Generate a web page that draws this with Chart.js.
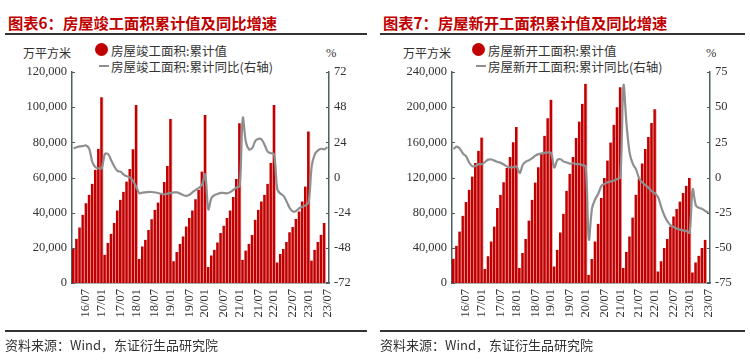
<!DOCTYPE html>
<html>
<head>
<meta charset="utf-8">
<script src="https://cdn.jsdelivr.net/npm/chart.js@4.4.1/dist/chart.umd.min.js"></script>
<style>
  body { margin: 0; background: #fff; width: 750px; height: 361px; overflow: hidden; }
  .panel { position: absolute; top: 0; width: 375px; height: 361px; }
  .panel canvas { position: absolute; left: 0; top: 0; }
  .title { position: absolute; top: 11px; left: 8px; font: bold 15.3px "Noto Sans CJK SC"; color: #c00000; white-space: nowrap; }
  .rule { position: absolute; height: 2px; background: #333; }
  .txt { position: absolute; font: 12.5px "Noto Sans CJK SC"; color: #333; white-space: nowrap; }
  .dot { position: absolute; width: 13px; height: 13px; border-radius: 50%; background: #c00000; }
  .dash { position: absolute; width: 10px; height: 2px; background: #8f8f8f; }
</style>
</head>
<body>
<div class="panel" style="left:0">
  <div class="title">图表6：房屋竣工面积累计值及同比增速</div>
  <div class="rule" style="left:5px;top:33px;width:362px"></div>
  <div class="txt" style="left:23px;top:44px;font-size:12px">万平方米</div>
  <div class="dot" style="left:95px;top:43px"></div>
  <div class="txt" style="left:111px;top:41px">房屋竣工面积:累计值</div>
  <div class="dash" style="left:99px;top:65px"></div>
  <div class="txt" style="left:111px;top:57px">房屋竣工面积:累计同比(右轴)</div>
  <div class="txt" style="left:326px;top:46px;font-family:'Liberation Serif'">%</div>
  <canvas id="chart1" width="375" height="361"></canvas>
  <div class="rule" style="left:5px;top:330px;width:362px"></div>
  <div class="txt" style="left:5px;top:335px;font-size:13px">资料来源：Wind，东证衍生品研究院</div>
</div>
<div class="panel" style="left:375px">
  <div class="title">图表7：房屋新开工面积累计值及同比增速</div>
  <div class="rule" style="left:5px;top:33px;width:365px"></div>
  <div class="txt" style="left:28px;top:44px;font-size:12px">万平方米</div>
  <div class="dot" style="left:97px;top:43px"></div>
  <div class="txt" style="left:113px;top:41px">房屋新开工面积:累计值</div>
  <div class="dash" style="left:101px;top:65px"></div>
  <div class="txt" style="left:113px;top:57px">房屋新开工面积:累计同比(右轴)</div>
  <div class="txt" style="left:331px;top:46px;font-family:'Liberation Serif'">%</div>
  <canvas id="chart2" width="375" height="361"></canvas>
  <div class="rule" style="left:5px;top:330px;width:365px"></div>
  <div class="txt" style="left:5px;top:335px;font-size:13px">资料来源：Wind，东证衍生品研究院</div>
</div>
<script>
// months 16/03 .. 23/07, no January (Jan-Feb is reported together)
const months = [];
for (let y = 16, m = 3; y < 23 || (y === 23 && m <= 7); m++) {
    if (m > 12) { m = 2; y++; }
    months.push(y + '/' + String(m).padStart(2, '0'));
}

// 房屋竣工面积:累计值 (万平方米)
const completedCum = [
    19900, 25200, 31600, 38800, 45400, 50200, 56400, 64400, 76300, 105700,
    16100, 22700, 28000, 34100, 41300, 47300, 51900, 57700, 64900, 76100, 101300,
    13600, 20800, 24600, 30100, 36200, 41600, 45800, 50600, 57400, 66600, 93200,
    12300, 17600, 22300, 26500, 32200, 36900, 41300, 47700, 53000, 63400, 95600,
    9100, 15700, 18900, 23100, 28400, 32600, 36900, 41300, 48900, 59100, 90900,
    13200, 18500, 22300, 27300, 36000, 41600, 46400, 50200, 56400, 68200, 101300,
    11700, 16500, 19300, 23300, 28800, 31800, 36400, 40700, 46400, 54900, 86200,
    12800, 18900, 23300, 27400, 34100, null
];
// 房屋竣工面积:累计同比 (%)
const completedYoy = [
    19.8, 20.6, 21.2, 21.5, 21.8, 19.5, 10.5, 7.0, 6.2, 6.5,
    16.0, 16.0, 11.8, 7.5, 4.5, 4.0, 2.0, 0.8, 0.0, -2.5, -6.5,
    -10.8, -10.3, -10.1, -9.8, -9.9, -10.2, -10.6, -11.2, -11.5, -11.0, -10.5,
    -10.2, -10.2, -11.0, -12.0, -12.5, -11.8, -10.0, -8.5, -7.0, -5.0, 2.0,
    -21.8, -14.0, -12.0, -11.2, -10.5, -10.6, -10.8, -10.0, -8.5, -6.8, -5.9,
    40.7, 24.0, 19.2, 20.0, 25.0, 26.4, 26.0, 22.0, 17.5, 16.6, 15.8,
    -8.0, -11.0, -12.5, -16.5, -21.0, -23.2, -22.8, -21.0, -20.0, -19.0, -17.0,
    8.0, 16.0, 18.5, 19.6, 19.2, 20.8
];

// 房屋新开工面积:累计值 (万平方米)
const startedCum = [
    27600, 42400, 58600, 76500, 92000, 106000, 121000, 136400, 150300, 165500,
    15900, 30300, 47300, 64300, 85200, 100300, 114700, 130700, 143200, 160200, 177300,
    17000, 34000, 50000, 71000, 94700, 114300, 131800, 147700, 167400, 187500, 208300,
    18900, 37800, 57500, 78800, 104900, 124200, 143200, 164800, 183600, 203800, 226500,
    9400, 27300, 47300, 67400, 96600, 119300, 139300, 159800, 179900, 200000, 222700,
    17000, 35500, 53000, 74500, 100500, 118500, 136000, 152500, 166000, 182000, 197700,
    13200, 24600, 39800, 50000, 64300, 75700, 84100, 92700, 102300, 110600, 119300,
    12000, 23400, 31000, 39800, 49200, null
];
// 房屋新开工面积:累计同比 (%)
const startedYoy = [
    20.2, 22.0, 20.5, 17.0, 15.0, 10.5, 7.9, 8.3, 9.5, 9.5,
    11.0, 12.7, 12.8, 12.0, 11.0, 10.4, 9.2, 7.8, 7.2, 7.3, 7.9,
    3.1, 9.0, 11.3, 12.3, 13.7, 15.5, 16.6, 17.2, 17.5, 17.9, 17.4,
    7.1, 12.5, 13.0, 11.3, 10.7, 9.8, 10.2, 9.5, 9.5, 8.8, 7.9,
    -44.0, -22.0, -15.5, -11.5, -6.0, -4.5, -3.4, -2.8, -2.2, -1.0, 0.0,
    65.5, 37.0, 17.0, 9.5, 5.8, -0.7, -3.6, -5.5, -7.4, -9.8, -11.3,
    -14.0, -21.0, -27.0, -31.3, -34.0, -35.3, -36.4, -37.1, -37.6, -38.1, -39.2,
    -8.3, -19.8, -21.6, -22.3, -23.8, -25.0
];

const axisColor = '#4b6060';
const serif = { family: 'Liberation Serif', size: 12.5 };

// small inward tick marks on both value axes
const innerTicks = {
    id: 'innerTicks',
    afterDraw(chart) {
        const ctx = chart.ctx;
        ctx.save();
        ctx.strokeStyle = axisColor;
        ctx.lineWidth = 1;
        ['y', 'y1'].forEach(id => {
            const s = chart.scales[id];
            const left = s.position === 'left';
            const x0 = left ? s.right : s.left;
            s.ticks.forEach(t => {
                const y = Math.round(s.getPixelForValue(t.value)) + 0.5;
                ctx.beginPath();
                ctx.moveTo(x0, y);
                ctx.lineTo(x0 + (left ? 3 : -3), y);
                ctx.stroke();
            });
        });
        ctx.restore();
    }
};

// x labels every half year: "yy/07" on July, "yy/01" on the December bar before it
function halfYearLabel(i) {
    const [y, m] = months[i].split('/');
    if (m === '07') return months[i];
    if (m === '12') return (+y + 1) + '/01';
    return null;
}

function makeChart(id, bars, yoy, leftMax, leftStep, rightLim, rightStep, leftW, rightW) {
    return new Chart(document.getElementById(id), {
        type: 'bar',
        data: {
            labels: months,
            datasets: [{
                type: 'line',
                data: yoy,
                yAxisID: 'y1',
                borderColor: '#8f8f8f',
                borderWidth: 2.2,
                pointRadius: 0,
                tension: 0.35,
                order: 0
            }, {
                data: bars,
                yAxisID: 'y',
                backgroundColor: '#c00000',
                borderColor: '#f4b0b0',
                borderWidth: { right: 1 },
                borderSkipped: 'bottom',
                barPercentage: 1,
                categoryPercentage: 1,
                order: 1
            }]
        },
        options: {
            responsive: false,
            animation: false,
            devicePixelRatio: 1,
            layout: { padding: { top: 72, left: 0, right: 0, bottom: 0 } },
            plugins: { legend: { display: false }, tooltip: { enabled: false } },
            scales: {
                x: {
                    grid: { display: false, drawTicks: false },
                    border: { color: axisColor, width: 1.5 },
                    afterFit: s => { s.height = 78; },
                    ticks: {
                        autoSkip: false,
                        minRotation: 90,
                        maxRotation: 90,
                        padding: 6,
                        color: '#333',
                        font: serif,
                        callback: (v, i) => halfYearLabel(i)
                    }
                },
                y: {
                    position: 'left',
                    min: 0,
                    max: leftMax,
                    grid: { display: false, drawTicks: false },
                    border: { color: axisColor, width: 1.5 },
                    afterFit: s => { s.width = leftW; },
                    ticks: {
                        stepSize: leftStep,
                        padding: 5,
                        color: '#333',
                        font: serif,
                        callback: v => v.toLocaleString('en-US')
                    }
                },
                y1: {
                    position: 'right',
                    min: -rightLim,
                    max: rightLim,
                    grid: { display: false, drawTicks: false },
                    border: { color: axisColor, width: 1.5 },
                    afterFit: s => { s.width = rightW; },
                    ticks: {
                        stepSize: rightStep,
                        padding: 5,
                        color: '#333',
                        font: serif
                    }
                }
            }
        },
        plugins: [innerTicks]
    });
}

makeChart('chart1', completedCum, completedYoy, 120000, 20000, 72, 24, 72, 46);
makeChart('chart2', startedCum, startedYoy, 240000, 40000, 75, 25, 77, 40);
</script>
</body>
</html>
